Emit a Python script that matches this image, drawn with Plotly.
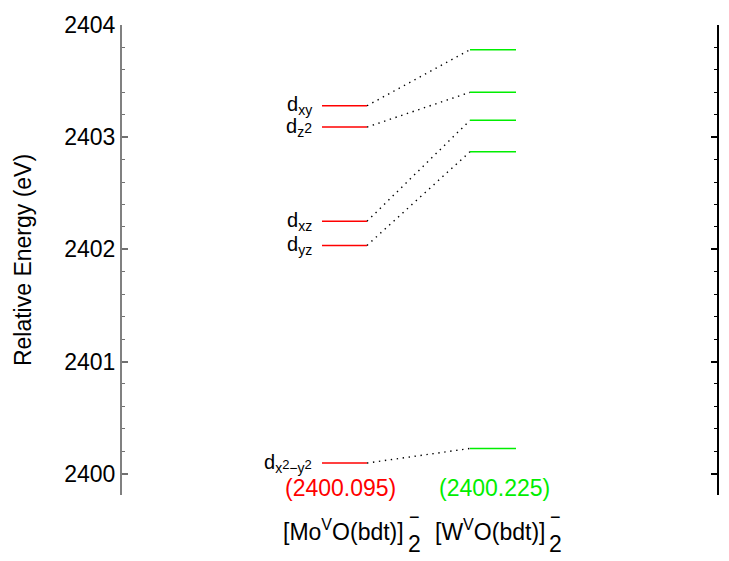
import plotly.graph_objects as go

# ---- data ----
mo_levels = [2403.28, 2403.09, 2402.25, 2402.035, 2400.095]
w_levels = [2403.78, 2403.40, 2403.15, 2402.87, 2400.225]
orbital_labels = [
    "d<sub>xy</sub>",
    "d<sub>z</sub><span style='font-size:14px'>2</span>",
    "d<sub>xz</sub>",
    "d<sub>yz</sub>",
    "d<sub>x</sub><span style='font-size:13px'>2</span><sub>−y</sub><span style='font-size:13px'>2</span>",
]
mo_lumo_label = "(2400.095)"
w_lumo_label = "(2400.225)"
compound_names = ["[Mo<sup>V</sup>O(bdt)]", "[W<sup>V</sup>O(bdt)]"]
y_ticks = [2400, 2401, 2402, 2403, 2404]

RED = "#ff0000"
GREEN = "#00ee00"

# layout geometry (pixel -> data x helper)
L, R, T, B = 122, 12, 21, 66
W, H = 729, 561
PW = W - L - R


def px(xp):
    return (xp - L) / PW * 10.0


MO_X = (px(322), px(367))
W_X = (px(470), px(516))

fig = go.Figure()

# dotted connectors
for m, w in zip(mo_levels, w_levels):
    fig.add_trace(go.Scatter(x=[MO_X[1], W_X[0]], y=[m, w], mode="lines",
                             line=dict(color="black", width=1.4, dash="1.4px,4.6px"),
                             hoverinfo="skip", showlegend=False))
# Mo levels
for m in mo_levels:
    fig.add_trace(go.Scatter(x=list(MO_X), y=[m, m], mode="lines",
                             line=dict(color=RED, width=1.5), showlegend=False))
# W levels
for w in w_levels:
    fig.add_trace(go.Scatter(x=list(W_X), y=[w, w], mode="lines",
                             line=dict(color=GREEN, width=1.5), showlegend=False))

# invisible trace for right axis
fig.add_trace(go.Scatter(x=[5], y=[2402], yaxis="y2", mode="markers",
                         marker=dict(opacity=0), showlegend=False, hoverinfo="skip"))

annotations = []
for lab, m in zip(orbital_labels, mo_levels):
    annotations.append(dict(x=px(314), y=m, xref="x", yref="y", text=lab,
                            showarrow=False, xanchor="right", yanchor="middle",
                            font=dict(size=20, color="black")))

annotations.append(dict(x=px(340), y=2399.87, xref="x", yref="y", text=mo_lumo_label,
                        showarrow=False, xanchor="center", yanchor="middle",
                        font=dict(size=23, color=RED)))
annotations.append(dict(x=px(494), y=2399.87, xref="x", yref="y", text=w_lumo_label,
                        showarrow=False, xanchor="center", yanchor="middle",
                        font=dict(size=23, color=GREEN)))

ph = H - T - B


def py(yp):
    return (H - B - yp) / ph


for name, xr in zip(compound_names, [406, 547]):
    annotations.append(dict(x=px(xr), y=py(530), xref="x", yref="paper", text=name,
                            showarrow=False, xanchor="right", yanchor="middle",
                            font=dict(size=23, color="black")))
    annotations.append(dict(x=px(xr + 2), y=py(517), xref="x", yref="paper", text="−",
                            showarrow=False, xanchor="left", yanchor="middle",
                            borderpad=0, font=dict(size=18, color="black")))
    annotations.append(dict(x=px(xr + 1), y=py(544), xref="x", yref="paper", text="2",
                            showarrow=False, xanchor="left", yanchor="middle",
                            borderpad=0, font=dict(size=23, color="black")))

yrange = [2399.81, 2404]

fig.update_layout(
    width=W, height=H,
    margin=dict(l=L, r=R, t=T, b=B),
    plot_bgcolor="white", paper_bgcolor="white",
    font=dict(family="Liberation Sans, Arial, sans-serif", color="black"),
    showlegend=False,
    xaxis=dict(range=[0, 10], showline=False, showticklabels=False, ticks="",
               showgrid=False, zeroline=False, fixedrange=True),
    yaxis=dict(range=yrange, tickvals=y_ticks, ticks="inside", ticklen=6, tickwidth=1.5,
               tickcolor="#707070", showline=True, linecolor="#808080", linewidth=2,
               showgrid=False, zeroline=False, tickfont=dict(size=23, color="black"),
               ticksuffix=" ",
               minor=dict(dtick=0.2, tick0=2400, ticks="inside", ticklen=3, tickwidth=1.2,
                          tickcolor="#707070", showgrid=False),
               title=dict(text="Relative Energy (eV)", font=dict(size=23, color="black"),
                          standoff=26)),
    yaxis2=dict(range=yrange, overlaying="y", side="right", tickvals=y_ticks,
                ticks="inside", ticklen=6, tickwidth=1.5, tickcolor="black",
                showline=True, linecolor="black", linewidth=2, showgrid=False,
                zeroline=False, showticklabels=False,
                minor=dict(dtick=0.2, tick0=2400, ticks="inside", ticklen=3, tickwidth=1.2,
                           tickcolor="black", showgrid=False)),
    annotations=annotations,
)

fig.write_html("out.html", config={"displayModeBar": False},
               post_script="document.body.style.margin='0px';document.body.style.overflow='hidden';")
